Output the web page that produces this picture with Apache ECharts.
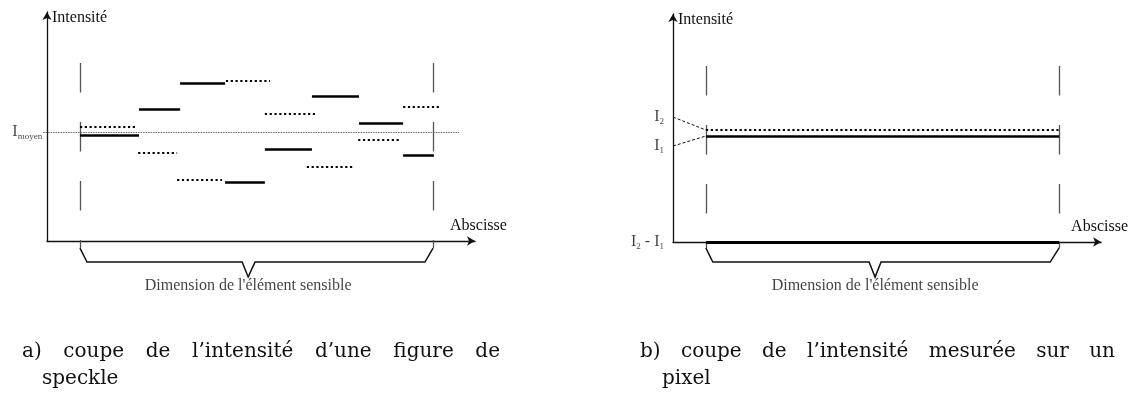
<!DOCTYPE html>
<html lang="fr">
<head>
    <meta charset="UTF-8">
    <title>Coupe de l'intensité</title>
    <script src="https://cdn.jsdelivr.net/npm/echarts@6/dist/echarts.min.js"></script>
    <style>
        * {padding: 0; margin: 0;}
        body {background: #fff;}
        #main {width: 1131px; height: 399px;}
    </style>
</head>
<body>
    <div id="main"></div>

    <script>
        // abscissa in arbitrary units (0..100 along each axis), intensity 0..100
        const sensor = [7.7, 90.2];

        // a) speckle: solid and dotted steps
        const solidEdges = [7.7, 21.5, 31.1, 41.6, 50.9, 61.9, 72.9, 83.2, 90.4];
        const solidLevels = [46.3, 57.6, 69.0, 25.8, 40.2, 63.3, 51.5, 37.6];
        const dottedStarts = [7.7, 21.3, 30.4, 41.8, 50.9, 60.7, 72.7, 83.2];
        const dottedEnds = [21.0, 30.4, 40.9, 52.1, 62.6, 71.9, 82.5, 91.6];
        const dottedLevels = [49.8, 38.4, 26.6, 69.9, 55.5, 32.3, 44.1, 58.5];
        const meanLevel = 47.6;
        const meanSpan = [-0.9, 96.3];

        // b) pixel
        const pixelI1 = 46.5;
        const pixelI2 = 49.1;
        const labelI1 = 42.1;
        const labelI2 = 54.8;

        // dashed edges of the sensitive element and the brace under it
        const edgeTopA = 77.7, edgeBottomA = -3.1;
        const edgeTopB = 77.2, edgeBottomB = -2.6;
        const braceA = [[7.7, -3.1], [9.35, -9.2], [45.6, -9.2], [47.0, -15.7], [48.6, -9.2], [88.3, -9.2], [90.2, -3.1]];
        const braceB = [[7.67, -2.6], [9.3, -8.8], [45.8, -8.8], [47.2, -15.4], [48.6, -8.8], [88.1, -8.8], [90.2, -2.6]];

        const captionA = ['a)', 'coupe', 'de', 'l\u2019intensité', 'd\u2019une', 'figure', 'de'];
        const captionA2 = 'speckle';
        const captionB = ['b)', 'coupe', 'de', 'l\u2019intensité', 'mesurée', 'sur', 'un'];
        const captionB2 = 'pixel';

        const serif = '"Liberation Serif", "Times New Roman", serif';
        const ink = '#111';
        const capFont = '20px "DejaVu Serif"';

        const chart = echarts.init(document.getElementById('main'));

        function xAxisFor(i, gap) {
            return {
                type: 'value', gridIndex: i, min: 0, max: 100,
                axisLine: {show: true, onZero: false, lineStyle: {color: ink, width: 1.3},
                    symbol: ['none', 'arrow'], symbolSize: [7, 8]},
                axisTick: {show: false}, axisLabel: {show: false}, splitLine: {show: false},
                name: 'Abscisse', nameLocation: 'end', nameGap: gap,
                nameTextStyle: {fontFamily: serif, fontSize: 16, color: ink, align: 'left',
                    verticalAlign: 'bottom', lineHeight: 16, padding: [0, 0, 7, 0]}
            };
        }
        function yAxisFor(i) {
            return {
                type: 'value', gridIndex: i, min: 0, max: 100,
                axisLine: {show: true, onZero: false, lineStyle: {color: ink, width: 1.3},
                    symbol: ['none', 'arrow'], symbolSize: [7, 8]},
                axisTick: {show: false}, axisLabel: {show: false}, splitLine: {show: false},
                name: 'Intensité', nameLocation: 'end', nameGap: -6,
                nameTextStyle: {fontFamily: serif, fontSize: 16, color: ink, align: 'left',
                    verticalAlign: 'middle', padding: [0, 0, 0, 5]}
            };
        }

        function segs(grid, data, style, poly) {
            return {
                type: 'lines', coordinateSystem: 'cartesian2d', xAxisIndex: grid, yAxisIndex: grid,
                clip: false, silent: true, polyline: !!poly,
                lineStyle: Object.assign({color: '#000', opacity: 1, curveness: 0}, style),
                data: data.map(c => ({coords: c}))
            };
        }

        const rich = {
            i: {fontFamily: serif, fontSize: 16, lineHeight: 18, color: ink},
            s: {fontFamily: serif, fontSize: 9, lineHeight: 8, verticalAlign: 'bottom', color: ink},
            t: {fontFamily: serif, fontSize: 16, lineHeight: 18, color: ink}
        };
        function tag(grid, x, y, text, pos, dist) {
            return {
                type: 'scatter', xAxisIndex: grid, yAxisIndex: grid, symbolSize: 0, clip: false, silent: true,
                data: [{value: [x, y]}],
                label: {show: true, position: pos, distance: dist, formatter: text, rich: rich,
                    fontFamily: serif, fontSize: 16, color: ink}
            };
        }

        // caption words spread across the column width
        function justify(words, x0, x1, y) {
            const ctx = document.createElement('canvas').getContext('2d');
            ctx.font = capFont;
            const w = words.map(s => ctx.measureText(s).width);
            const gap = (x1 - x0 - w.reduce((a, b) => a + b, 0)) / (words.length - 1);
            let x = x0;
            return words.map((s, i) => {
                const el = {type: 'text', x: x, y: y, silent: true,
                    style: {text: s, font: capFont, fill: ink, verticalAlign: 'middle'}};
                x += w[i] + gap;
                return el;
            });
        }
        function plain(s, x, y) {
            return {type: 'text', x: x, y: y, silent: true,
                style: {text: s, font: capFont, fill: ink, verticalAlign: 'middle'}};
        }

        const series = [
            // a)
            segs(0, [[[meanSpan[0], meanLevel], [meanSpan[1], meanLevel]]], {color: '#666', width: 1, type: [1.5, 1]}),
            segs(0, sensor.map(x => [[x, edgeTopA], [x, edgeBottomA]]), {color: '#555', width: 1.3, type: [29.5, 29.5]}),
            segs(0, solidLevels.map((v, i) => [[solidEdges[i], v], [solidEdges[i + 1], v]]), {width: 2.5}),
            segs(0, dottedLevels.map((v, i) => [[dottedStarts[i], v], [dottedEnds[i], v]]), {width: 2.2, type: [2.2, 2.6]}),
            segs(0, [braceA], {color: ink, width: 1.5}, true),
            tag(0, meanSpan[0], meanLevel, '{i|I}{s|moyen}', 'left', 1),
            tag(0, braceA[3][0], braceA[3][1], "Dimension de l'élément sensible", 'bottom', 1),
            // b)
            segs(1, sensor.map(x => [[x, edgeTopB], [x, edgeBottomB]]), {color: '#555', width: 1.3, type: [29.5, 29.5]}),
            segs(1, [[[0, labelI2], [sensor[0], pixelI2]], [[0, labelI1], [sensor[0], pixelI1]]], {color: ink, width: 1, type: [3, 2]}),
            segs(1, [[[sensor[0], pixelI2], [sensor[1], pixelI2]]], {width: 2.2, type: [2.2, 2.6]}),
            segs(1, [[[sensor[0], pixelI1], [sensor[1], pixelI1]]], {width: 2.5}),
            segs(1, [[[sensor[0], 0], [sensor[1], 0]]], {width: 3}),
            segs(1, [braceB], {color: ink, width: 1.5}, true),
            tag(1, 0, labelI2, '{i|I}{s|2}', 'left', 9),
            tag(1, 0, labelI1, '{i|I}{s|1}', 'left', 9),
            tag(1, 0, 0, '{i|I}{s|2}{t| - }{i|I}{s|1}', 'left', 9),
            tag(1, braceB[3][0], braceB[3][1], "Dimension de l'élément sensible", 'bottom', 1)
        ];

        chart.setOption({
            animation: false,
            grid: [
                {left: 47, top: 12, width: 428, height: 229},
                {left: 673, top: 14, width: 430, height: 228}
            ],
            xAxis: [xAxisFor(0, -25), xAxisFor(1, -30)],
            yAxis: [yAxisFor(0), yAxisFor(1)],
            series: series,
            graphic: [].concat(
                justify(captionA, 22, 500, 352),
                [plain(captionA2, 42, 379)],
                justify(captionB, 640, 1115, 352),
                [plain(captionB2, 662, 379)]
            )
        });
    </script>
</body>
</html>
